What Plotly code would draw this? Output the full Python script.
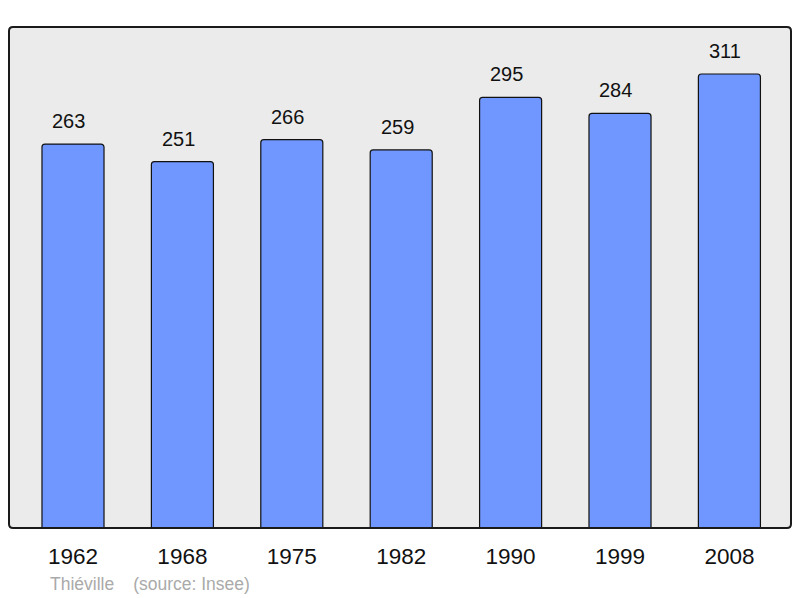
import plotly.graph_objects as go

years = ["1962", "1968", "1975", "1982", "1990", "1999", "2008"]
population = [263, 251, 266, 259, 295, 284, 311]
source_text = "Thiéville\u2002\u2002\u200a(source: Insee)"

xs = list(range(len(years)))
bar_w = 0.567

fig = go.Figure()
fig.add_trace(go.Bar(
    x=xs, y=population, width=bar_w,
    marker=dict(color="#7097ff", line=dict(color="#111111", width=1.2), cornerradius=3),
    hoverinfo="skip",
))

for x, v in zip(xs, population):
    fig.add_annotation(x=x - bar_w / 2, y=v, text=str(v), showarrow=False,
                       xanchor="left", yanchor="middle", xshift=8.5, yshift=23,
                       font=dict(size=20, color="#111111", family="Liberation Sans, Arial, sans-serif"))

fig.add_annotation(xref="paper", yref="paper", x=(47.5 - 9) / 782, y=-(584 - 528) / 501,
                   xanchor="left", yanchor="middle", showarrow=False, text=source_text,
                   font=dict(size=17.5, color="#aaaaaa", family="Liberation Sans, Arial, sans-serif"))

# rounded frame
W, H = 782.0, 501.0
r = 4.0
rx, ry = r / W, r / H
path = (f"M {rx},0 L {1-rx},0 Q 1,0 1,{ry} L 1,{1-ry} Q 1,1 {1-rx},1 "
        f"L {rx},1 Q 0,1 0,{1-ry} L 0,{ry} Q 0,0 {rx},0 Z")
fig.add_shape(type="path", xref="paper", yref="paper", path=path,
              line=dict(color="#1a1a1a", width=2), layer="above")

fig.update_layout(
    width=800, height=598,
    margin=dict(l=9, r=9, t=27, b=70),
    paper_bgcolor="white", plot_bgcolor="#ebebeb",
    showlegend=False,
    font=dict(family="Liberation Sans, Arial, sans-serif"),
    xaxis=dict(range=[-0.585, 6.563], tickvals=xs, ticktext=years, showgrid=False,
               zeroline=False, showline=False, ticks="", ticklabelstandoff=12,
               tickfont=dict(size=22.5, color="#111111"), fixedrange=True),
    yaxis=dict(range=[0, 343.2], showgrid=False, zeroline=False, showticklabels=False,
               showline=False, ticks="", fixedrange=True),
)

fig.write_html("out.html", config={"displayModeBar": False},
               post_script="document.body.style.margin='0';document.body.style.overflow='hidden';")
